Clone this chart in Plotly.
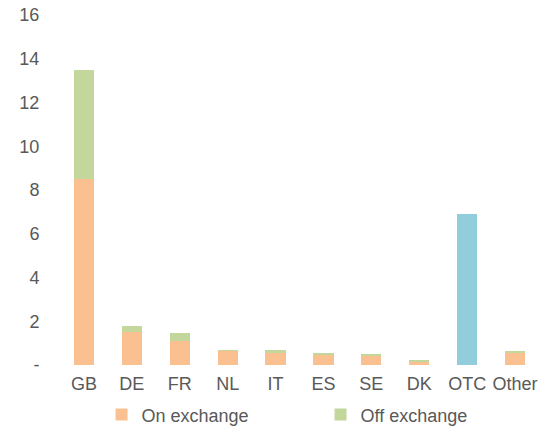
import plotly.graph_objects as go

# Trading volume by venue / entity domicile
categories = ["GB", "DE", "FR", "NL", "IT", "ES", "SE", "DK", "OTC", "Other"]
on_exchange = [8.5, 1.5, 1.1, 0.65, 0.55, 0.47, 0.42, 0.16, None, 0.57]
off_exchange = [5.0, 0.3, 0.35, 0.03, 0.12, 0.04, 0.04, 0.05, None, 0.05]
otc_values = [None, None, None, None, None, None, None, None, 6.9, None]

y_tick_vals = [0, 2, 4, 6, 8, 10, 12, 14, 16]
y_tick_text = ["-", "2", "4", "6", "8", "10", "12", "14", "16"]

text_color = "#595959"
font_family = "Liberation Sans, Arial, sans-serif"

fig = go.Figure()
fig.add_trace(go.Bar(x=categories, y=on_exchange, name="On exchange",
                     marker=dict(color="#FAC090", line=dict(width=0))))
fig.add_trace(go.Bar(x=categories, y=off_exchange, name="Off exchange",
                     marker=dict(color="#C3D69B", line=dict(width=0))))
fig.add_trace(go.Bar(x=categories, y=otc_values, name="OTC", showlegend=False,
                     marker=dict(color="#92CDDC", line=dict(width=0))))

fig.update_layout(
    width=543, height=429,
    margin=dict(l=60, r=4, t=15, b=64, autoexpand=False),
    barmode="stack",
    bargap=0.58,
    paper_bgcolor="white",
    plot_bgcolor="white",
    font=dict(family=font_family, size=18, color=text_color),
    showlegend=True,
    legend=dict(
        orientation="h",
        xref="container", yref="container",
        x=0.187, xanchor="left",
        y=0.076, yanchor="top",
        font=dict(size=18, color=text_color),
        entrywidth=174, entrywidthmode="pixels",
        itemwidth=30,
        traceorder="normal",
    ),
    xaxis=dict(
        automargin=False,
        showgrid=False, showline=False, zeroline=False,
        ticks="outside", ticklen=2, tickcolor="rgba(0,0,0,0)",
        tickfont=dict(size=18, color=text_color),
    ),
    yaxis=dict(
        automargin=False,
        range=[0, 16],
        tickvals=y_tick_vals, ticktext=y_tick_text,
        showgrid=False, showline=False, zeroline=False,
        ticks="outside", ticklen=16, tickcolor="rgba(0,0,0,0)",
        tickfont=dict(size=18, color=text_color),
    ),
)

fig.write_html("out.html")
